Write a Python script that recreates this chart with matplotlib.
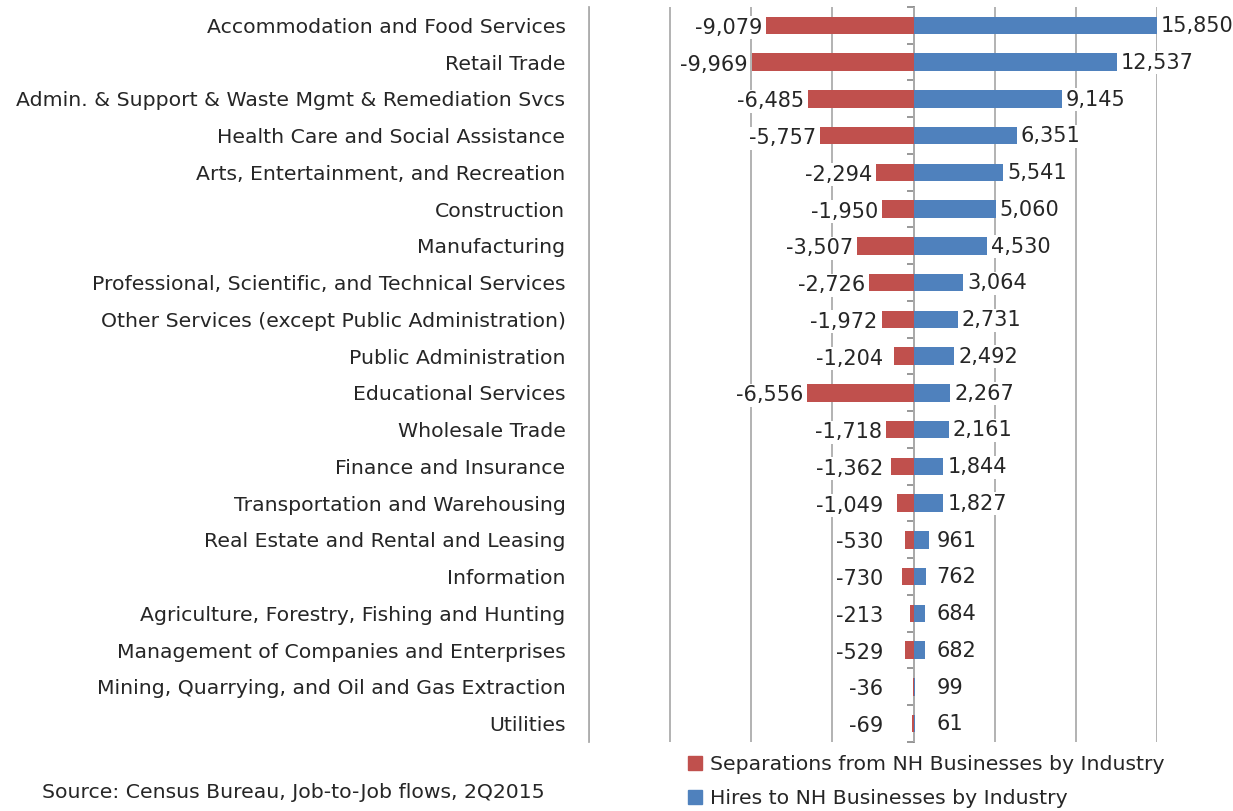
import matplotlib.pyplot as plt
import matplotlib.patches as mpatches
import numpy as np

plt.rcParams['font.family'] = ['DejaVu Sans']

# Données (de haut en bas)
categories = [
    "Accommodation and Food Services",
    "Retail Trade",
    "Admin. & Support & Waste Mgmt & Remediation Svcs",
    "Health Care and Social Assistance",
    "Arts, Entertainment, and Recreation",
    "Construction",
    "Manufacturing",
    "Professional, Scientific, and Technical Services",
    "Other Services (except Public Administration)",
    "Public Administration",
    "Educational Services",
    "Wholesale Trade",
    "Finance and Insurance",
    "Transportation and Warehousing",
    "Real Estate and Rental and Leasing",
    "Information",
    "Agriculture, Forestry, Fishing and Hunting",
    "Management of Companies and Enterprises",
    "Mining, Quarrying, and Oil and Gas Extraction",
    "Utilities",
]
separations = [-9079, -9969, -6485, -5757, -2294, -1950, -3507, -2726, -1972, -1204,
               -6556, -1718, -1362, -1049, -530, -730, -213, -529, -36, -69]
hires = [15850, 12537, 9145, 6351, 5541, 5060, 4530, 3064, 2731, 2492,
         2267, 2161, 1844, 1827, 961, 762, 684, 682, 99, 61]

sep_label = "Separations from NH Businesses by Industry"
hire_label = "Hires to NH Businesses by Industry"
source = "Source: Census Bureau, Job-to-Job flows, 2Q2015"

RED = '#C0504D'
BLUE = '#4F81BD'
TXT = '#262626'
FS = 14.7
FS_VAL = 15.0

xmin, xmax = -20000, 15000

fig = plt.figure(figsize=(12.33, 8.11), dpi=100)
ax = fig.add_axes([589/1233, 1 - 742/811, (1157 - 589)/1233, (742 - 7)/811])

y = np.arange(len(categories))
ax.barh(y, separations, height=0.47, color=RED, zorder=2)
ax.barh(y, hires, height=0.47, color=BLUE, zorder=2)

ax.set_xlim(xmin, xmax)
ax.set_ylim(len(categories) - 0.5, -0.5)
ax.set_xticks(np.arange(-20000, 15001, 5000))
ax.xaxis.grid(True, color='#ADADAD', linewidth=1.3, zorder=0)
ax.tick_params(axis='x', length=0, labelbottom=False)
for s in ['top', 'right', 'bottom']:
    ax.spines[s].set_visible(False)
ax.spines['left'].set_color('#ADADAD')
ax.spines['left'].set_linewidth(1.3)

ax.set_yticks(y)
ax.set_yticklabels(categories, fontsize=FS, color=TXT)
ax.tick_params(axis='y', length=0, pad=17)

# axe vertical à zéro avec graduations
zero_pos = (0 - xmin) / (xmax - xmin)
sec = ax.secondary_yaxis(zero_pos)
sec.set_alignment('left')
sec.set_yticks(np.arange(-0.5, len(categories), 1.0))
sec.tick_params(axis='y', labelleft=False, labelright=False,
                length=5, direction='out', color='#868686', width=1.2)
sec.spines['left'].set_color('#868686')
sec.spines['left'].set_linewidth(1.3)

# étiquettes de valeurs
px = (xmax - xmin) / 568.0
box = dict(facecolor='white', edgecolor='none', pad=1.0)
for i, (s, h) in enumerate(zip(separations, hires)):
    xs = min(s - 4 * px, -30 * px)
    ax.text(xs, i + 0.07, f"{s:,}", ha='right', va='center', fontsize=FS_VAL,
            color=TXT, bbox=box, zorder=3)
    xh = max(min(h, xmax) + 4 * px, 23 * px)
    ax.text(xh, i + 0.02, f"{h:,}", ha='left', va='center', fontsize=FS_VAL,
            color=TXT, bbox=box, zorder=3, clip_on=False)

handles = [mpatches.Patch(color=RED), mpatches.Patch(color=BLUE)]
fig.legend(handles, [sep_label, hire_label], loc='upper left',
           bbox_to_anchor=(688/1233, 1 - 755/811), frameon=False,
           fontsize=FS, handlelength=0.7, handleheight=0.7,
           handletextpad=0.4, labelspacing=0.75, borderpad=0, borderaxespad=0,
           labelcolor=TXT)

fig.text(42/1233, 1 - 793/811, source, fontsize=FS, color=TXT, va='center')

fig.savefig('out.png', dpi=100)
